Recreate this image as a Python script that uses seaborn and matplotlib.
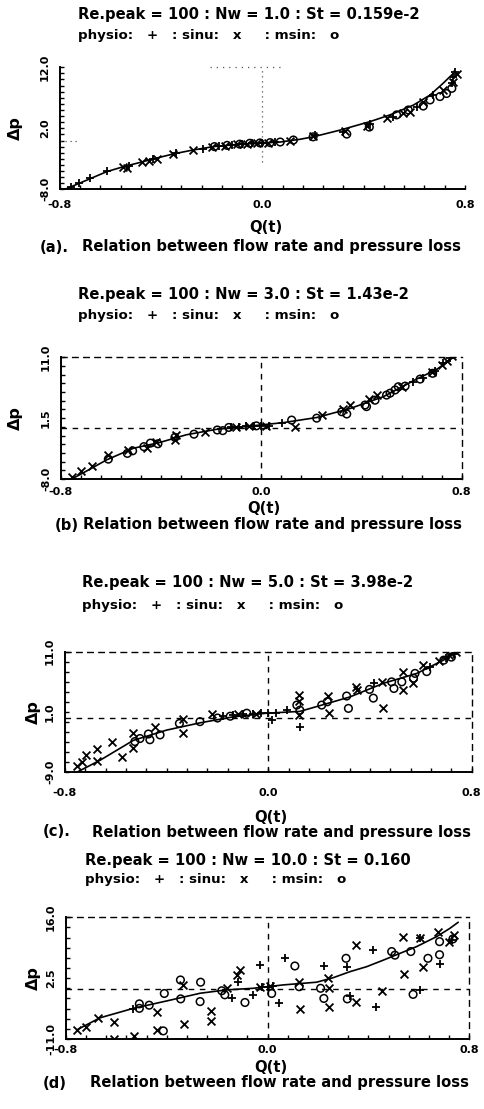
import numpy as np
import pandas as pd
import matplotlib
matplotlib.use("Agg")
import matplotlib.pyplot as plt
import seaborn as sns

sns.set_theme(style="white")
plt.rcParams['font.family'] = ['DejaVu Sans']
plt.rcParams['text.color'] = 'black'

# ---------------- data ----------------
titles = ["Re.peak = 100 : Nw = 1.0 : St = 0.159e-2",
          "Re.peak = 100 : Nw = 3.0 : St = 1.43e-2",
          "Re.peak = 100 : Nw = 5.0 : St = 3.98e-2",
          "Re.peak = 100 : Nw = 10.0 : St = 0.160"]
legend_line = "physio:   +   : sinu:   x     : msin:   o"
caption_tags = ["(a).", "(b)", "(c).", "(d)"]
caption_text = "Relation between flow rate and pressure loss"
x_ticklabels = ["-0.8", "0.0", "0.8"]
y_limits = [(-8.0, 12.0), (-8.0, 11.0), (-9.0, 11.0), (-11.0, 16.0)]
y_ticklabels = [["-8.0", "2.0", "12.0"], ["-8.0", "1.5", "11.0"],
                ["-9.0", "1.0", "11.0"], ["-11.0", "2.5", "16.0"]]

# panel (a)
curve_a_q = [-0.78, -0.70, -0.615, -0.55, -0.484, -0.42, -0.352, -0.28, -0.194, -0.10, 0.0,
             0.07, 0.148, 0.20, 0.306, 0.425, 0.504, 0.596, 0.662, 0.714, 0.754]
curve_a_dp = [-8.0, -6.6, -5.1, -4.3, -3.6, -2.9, -2.2, -1.6, -1.0, -0.65, -0.4,
              -0.25, 0.2, 0.6, 1.7, 3.1, 4.2, 5.8, 7.45, 9.4, 11.0]
physio_a_q = [-0.758, -0.724, -0.68, -0.615, -0.526, -0.431, -0.34, -0.234, -0.17, -0.12, -0.08,
              -0.04, 0.0, 0.05, 0.207, 0.319, 0.425, 0.517, 0.609, 0.675, 0.748, 0.754, 0.761]
physio_a_dp = [-7.7, -7.0, -6.2, -5.0, -4.1, -3.0, -2.1, -1.35, -0.9, -0.75, -0.6,
               -0.45, -0.4, -0.3, 0.9, 1.44, 2.7, 3.9, 5.55, 7.45, 9.4, 10.45, 11.3]
sinu_a_q = [-0.55, -0.536, -0.477, -0.447, -0.418, -0.352, -0.273, -0.2, -0.15, -0.1, -0.06, -0.02,
            0.02, 0.11, 0.2, 0.326, 0.412, 0.49, 0.556, 0.583, 0.635, 0.714, 0.754, 0.767]
sinu_a_dp = [-4.3, -4.45, -3.6, -3.35, -3.1, -2.2, -1.55, -1.05, -0.85, -0.65, -0.5, -0.4,
             -0.35, -0.05, 0.75, 1.6, 2.4, 3.65, 4.45, 4.7, 6.35, 8.3, 9.65, 10.9]
msin_a_q = [-0.19, -0.14, -0.09, -0.05, -0.01, 0.03, 0.07, 0.122, 0.2, 0.333, 0.422, 0.53,
            0.576, 0.635, 0.662, 0.701, 0.727, 0.748]
msin_a_dp = [-1.0, -0.8, -0.6, -0.45, -0.4, -0.35, -0.25, 0.08, 0.6, 1.05, 2.2, 4.2,
             5.0, 5.65, 6.65, 7.2, 7.7, 8.55]

# panel (b)
curve_b_q = [-0.757, -0.70, -0.617, -0.511, -0.406, -0.30, -0.18, -0.044, 0.088, 0.221, 0.354,
             0.487, 0.62, 0.70, 0.767]
curve_b_dp = [-8.0, -6.8, -5.0, -3.2, -2.3, -1.1, -0.25, 0.27, 0.8, 1.6, 3.0,
              4.85, 7.6, 9.1, 11.0]
physio_b_q = [-0.12, -0.09, -0.06, -0.03, 0.0, 0.03, 0.081, 0.607, 0.647, 0.693, 0.727, 0.754]
physio_b_dp = [0.1, 0.15, 0.2, 0.25, 0.3, 0.35, 0.7, 7.2, 7.7, 8.9, 10.05, 10.85]
sinu_b_q = [-0.757, -0.72, -0.677, -0.611, -0.531, -0.455, -0.421, -0.345, -0.339, -0.225, -0.1,
            -0.05, 0.02, 0.134, 0.241, 0.325, 0.354, 0.431, 0.461, 0.56, 0.68, 0.72, 0.74, 0.76]
sinu_b_dp = [-7.65, -6.7, -6.0, -4.25, -3.5, -3.2, -2.2, -1.9, -1.1, -0.6, 0.15,
             0.25, 0.35, 0.07, 2.0, 3.0, 3.55, 4.45, 5.1, 6.4, 8.75, 9.8, 10.5, 11.2]
msin_b_q = [-0.611, -0.535, -0.514, -0.469, -0.443, -0.413, -0.345, -0.269, -0.176, -0.154, -0.13,
            -0.02, 0.121, 0.221, 0.321, 0.341, 0.414, 0.42, 0.454, 0.50, 0.514, 0.534, 0.547,
            0.574, 0.634, 0.684]
msin_b_dp = [-4.9, -4.0, -3.6, -2.95, -2.4, -2.5, -1.5, -1.0, -0.35, -0.45, 0.05,
             0.3, 1.2, 1.5, 2.5, 2.15, 3.55, 3.3, 4.3, 5.1, 5.4, 5.9, 6.4,
             6.5, 7.6, 8.5]

# panel (c)
curve_c_q = [-0.754, -0.662, -0.531, -0.40, -0.269, -0.138, -0.007, 0.124, 0.19, 0.321, 0.452,
             0.584, 0.689, 0.754]
curve_c_dp = [-9.0, -7.0, -3.7, -2.0, -0.8, 0.2, 0.8, 1.1, 1.9, 3.5, 5.75,
              7.4, 9.6, 11.3]
physio_c_q = [-0.18, -0.14, -0.1, -0.06, -0.03, 0.0, 0.013, 0.03, 0.072, 0.124, 0.416, 0.636,
              0.70, 0.73]
physio_c_dp = [0.3, 0.45, 0.6, 0.7, 0.8, 0.85, -0.3, 0.9, 1.3, -1.55, 5.85, 8.5,
               9.9, 10.6]
sinu_c_q = [-0.752, -0.735, -0.717, -0.673, -0.673, -0.616, -0.577, -0.534, -0.531, -0.446, -0.337,
            -0.335, -0.223, -0.12, -0.05, 0.122, 0.122, 0.122, 0.236, 0.24, 0.345, 0.347, 0.446,
            0.452, 0.531, 0.528, 0.568, 0.61, 0.67, 0.71, 0.74]
sinu_c_dp = [-7.95, -7.3, -6.1, -7.1, -5.2, -3.9, -6.4, -2.5, -5.0, -1.5, -0.2,
             -2.4, 0.7, 0.6, 0.75, 3.8, 2.8, 0.5, 3.65, 0.9, 5.2, 4.65, 6.0,
             1.6, 7.7, 4.6, 5.8, 8.8, 9.5, 10.4, 10.9]
msin_c_q = [-0.525, -0.505, -0.472, -0.466, -0.426, -0.35, -0.269, -0.2, -0.15, -0.085, 0.112,
            0.124, 0.21, 0.232, 0.308, 0.315, 0.398, 0.413, 0.485, 0.494, 0.525, 0.571, 0.577,
            0.623, 0.69, 0.72]
msin_c_dp = [-3.9, -3.4, -2.65, -3.6, -2.8, -0.9, -0.6, 0.0, 0.3, 0.8, 2.15,
             1.3, 2.15, 2.7, 3.65, 1.6, 4.75, 3.3, 6.0, 4.9, 6.0, 6.6, 7.4,
             7.7, 9.6, 10.1]

# panel (d)
curve_d_q = [-0.758, -0.665, -0.533, -0.40, -0.268, -0.163, -0.057, 0.062, 0.194, 0.26, 0.327,
             0.393, 0.459, 0.525, 0.591, 0.670, 0.723, 0.756]
curve_d_dp = [-9.0, -6.3, -4.2, -2.55, -0.85, -0.1, 0.25, 1.0, 1.6, 2.6, 3.95,
              5.05, 6.5, 8.0, 9.5, 11.7, 13.55, 14.9]
physio_d_q = [-0.533, -0.143, -0.117, -0.057, -0.03, -0.024, 0.0, 0.02, 0.046, 0.069, 0.223,
              0.316, 0.327, 0.418, 0.43, 0.606, 0.606, 0.682, 0.73]
physio_d_dp = [-4.3, -2.0, 1.7, -1.2, 5.4, 0.6, 0.6, 0.7, -3.1, 6.9, 5.3,
               5.0, -1.4, 8.7, -3.8, -0.1, 11.3, 5.6, 11.0]
sinu_d_q = [-0.758, -0.721, -0.672, -0.61, -0.61, -0.529, -0.44, -0.44, -0.335, -0.332, -0.226,
            -0.226, -0.163, -0.123, -0.11, -0.03, 0.01, 0.125, 0.128, 0.24, 0.244, 0.244, 0.35,
            0.35, 0.452, 0.538, 0.541, 0.606, 0.616, 0.676, 0.72, 0.74]
sinu_d_dp = [-9.0, -8.3, -6.4, -7.2, -11.0, -10.3, -5.0, -9.0, 1.0, -7.7, -4.8,
             -6.9, 0.4, 3.2, 4.3, 0.6, 0.7, 1.6, -4.3, 2.6, 0.4, -3.9, 9.9,
             -2.9, -0.35, 11.7, 3.4, 11.3, 5.0, 12.8, 10.5, 12.0]
msin_d_q = [-0.509, -0.509, -0.47, -0.414, -0.41, -0.346, -0.345, -0.266, -0.268, -0.182, -0.17,
            -0.09, 0.016, 0.108, 0.125, 0.21, 0.223, 0.311, 0.316, 0.492, 0.505, 0.568, 0.577,
            0.636, 0.682, 0.682, 0.735]
msin_d_dp = [-3.2, -4.2, -3.5, -9.2, -0.9, 2.1, -2.1, 1.6, -2.7, -0.3, -1.2,
             -2.9, -0.9, 5.2, 0.6, 0.25, -2.0, 6.9, -2.1, 8.4, 7.6, 8.4, -1.1,
             6.9, 10.6, 7.7, 11.2]

curves = [(curve_a_q, curve_a_dp), (curve_b_q, curve_b_dp), (curve_c_q, curve_c_dp), (curve_d_q, curve_d_dp)]
physio = [(physio_a_q, physio_a_dp), (physio_b_q, physio_b_dp), (physio_c_q, physio_c_dp), (physio_d_q, physio_d_dp)]
sinu = [(sinu_a_q, sinu_a_dp), (sinu_b_q, sinu_b_dp), (sinu_c_q, sinu_c_dp), (sinu_d_q, sinu_d_dp)]
msin = [(msin_a_q, msin_a_dp), (msin_b_q, msin_b_dp), (msin_c_q, msin_c_dp), (msin_d_q, msin_d_dp)]

# ---------------- layout (pixels in a 485 x 1109 canvas) ----------------
W, H = 485, 1109
axes_px = [(60, 67.3, 465, 189.3), (61, 357.3, 461.7, 479), (65, 651.7, 471.7, 772.3), (66, 917.3, 469.3, 1039)]
title_px = [(78, 15), (78, 295), (82, 583), (85, 860)]
legend_px = [(78, 36), (78, 315), (82, 605), (85, 880)]
ylabel_x = [15, 15, 33, 33]
ytick_x_off = 15
caption_tag_x = [40, 55, 43, 43]
caption_txt_x = [82, 83, 92, 90]
caption_y = [247, 525, 832, 1083]
xlabel_y = [227, 508, 817, 1067]
xtick_y = [205, 492, 793, 1050]
minor_y_counts = [20, 14, 12, 12]

fig = plt.figure(figsize=(W / 100, H / 100), dpi=100)
fs_title = 10.6
fs_tick = 8

def fy(y):
    return 1 - y / H

for i in range(4):
    l, t, r, b = axes_px[i]
    ax = fig.add_axes([l / W, 1 - b / H, (r - l) / W, (b - t) / H])
    ymin, ymax = y_limits[i]
    # reference lines
    if i == 0:
        ax.axvline(0, ymin=0.22, color='#555555', lw=0.9, ls=(0, (1, 3)), zorder=1)
        ax.axhline(0, xmax=0.05, color='#555555', lw=0.9, ls=(0, (1, 3)), zorder=1)
        ax.axhline(ymax, xmin=0.37, xmax=0.55, color='#555555', lw=0.9, ls=(0, (1, 4)), zorder=1, clip_on=False)
    else:
        ax.axvline(0, color='black', lw=1.0, ls=(0, (4, 4)), zorder=1)
        ax.axhline(0, color='black', lw=1.0, ls=(0, (4, 4)), zorder=1)
    cq, cd = curves[i]
    sns.lineplot(x=cq, y=cd, ax=ax, color='black', lw=1.2, sort=False, estimator=None, zorder=3)
    pq, pd_ = physio[i]
    sns.scatterplot(x=pq, y=pd_, ax=ax, marker='+', color='black', s=38, linewidth=1.3, zorder=4)
    sq, sd = sinu[i]
    sns.scatterplot(x=sq, y=sd, ax=ax, marker='x', color='black', s=32, linewidth=1.3, zorder=4)
    mq, md = msin[i]
    sns.scatterplot(x=mq, y=md, ax=ax, marker='o', facecolor='none', edgecolor='black', s=30,
                    linewidth=1.1, zorder=4)
    ax.set_xlim(-0.8, 0.8)
    ax.set_ylim(ymin, ymax)
    ax.set_xticks([-0.8, 0.0, 0.8])
    ax.set_xticklabels([])
    ax.set_yticks([ymin, (ymin + ymax) / 2, ymax])
    ax.set_yticklabels([])
    ax.set_xticks(np.linspace(-0.8, 0.8, 21), minor=True)
    ax.set_yticks(np.linspace(ymin, ymax, minor_y_counts[i] + 1), minor=True)
    ax.tick_params(which='both', direction='in', length=3, width=1.0, color='black',
                   bottom=True, left=True, top=False, right=False)
    for side in ['left', 'bottom']:
        ax.spines[side].set_color('black')
        ax.spines[side].set_linewidth(1.4)
    if i == 0:
        ax.spines['top'].set_visible(False)
        ax.spines['right'].set_visible(False)
    else:
        for side in ['top', 'right']:
            ax.spines[side].set_color('black')
            ax.spines[side].set_linewidth(1.0)
            ax.spines[side].set_linestyle((0, (4, 4)))
    ax.set_xlabel('')
    ax.set_ylabel('')
    ax.patch.set_alpha(0)

    # texts
    kw = dict(color='black', fontweight='bold')
    fig.text(title_px[i][0] / W, fy(title_px[i][1]), titles[i], fontsize=fs_title,
             ha='left', va='center', **kw)
    fig.text(legend_px[i][0] / W, fy(legend_px[i][1]), legend_line, fontsize=fs_title - 1,
             ha='left', va='center', **kw)
    fig.text(ylabel_x[i] / W, fy((t + b) / 2), "Δp", fontsize=11.5, rotation=90,
             ha='center', va='center', **kw)
    for val, lab in zip([ymin, (ymin + ymax) / 2, ymax], y_ticklabels[i]):
        ypix = b - (val - ymin) / (ymax - ymin) * (b - t)
        fig.text((l - ytick_x_off) / W, fy(ypix), lab, fontsize=fs_tick, rotation=90,
                 ha='center', va='center', **kw)
    for val, lab in zip([-0.8, 0.0, 0.8], x_ticklabels):
        xpix = l + (val + 0.8) / 1.6 * (r - l)
        fig.text(xpix / W, fy(xtick_y[i]), lab, fontsize=fs_tick, ha='center', va='center', **kw)
    fig.text(((l + r) / 2 + 3) / W, fy(xlabel_y[i]), "Q(t)", fontsize=fs_title,
             ha='center', va='center', **kw)
    fig.text(caption_tag_x[i] / W, fy(caption_y[i]), caption_tags[i], fontsize=fs_title,
             ha='left', va='center', **kw)
    fig.text(caption_txt_x[i] / W, fy(caption_y[i]), caption_text, fontsize=fs_title,
             ha='left', va='center', **kw)

fig.savefig("out.png", dpi=100, facecolor='white')
